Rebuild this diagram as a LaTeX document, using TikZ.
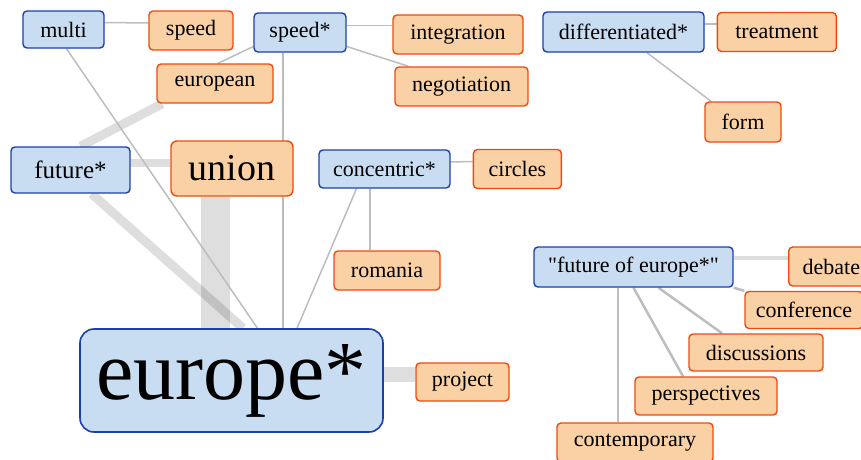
\documentclass[tikz,border=0pt]{standalone}
\usepackage{fontspec}
\setmainfont{Liberation Serif}
\usetikzlibrary{positioning,calc,backgrounds}
\definecolor{cBlueFill}{HTML}{C9DDF2}
\definecolor{cBlueLine}{HTML}{1C3FAE}
\definecolor{cOrangeFill}{HTML}{F9D1A4}
\definecolor{cOrangeLine}{HTML}{F0490E}
\definecolor{cLink}{HTML}{BDBDBD}

\begin{document}
\begin{tikzpicture}[x=1pt,y=-1pt,
      term/.style={rounded corners=4pt,line width=1.4pt,inner sep=0pt,
                   font=\fontsize{22}{24}\selectfont,text=black},
      hub/.style={term,draw=cBlueLine,fill=cBlueFill},
      leaf/.style={term,draw=cOrangeLine,fill=cOrangeFill},
      link/.style={cLink,line width=1.5pt},
      band/.style={black,draw opacity=0.13}]
    \path[use as bounding box,clip] (0,0) rectangle (861,459);

    % top row
    \node[hub,minimum width=81pt,minimum height=37pt] (multi) at (63.5,29.5) {multi};
    \node[leaf,minimum width=84pt,minimum height=39pt] (speed) at (191,30.5) {speed};
    \node[hub,minimum width=92pt,minimum height=39pt] (speedst) at (300,32.5) {speed*};
    \node[leaf,minimum width=130pt,minimum height=39pt] (integr) at (458,34.5) {integration};
    \node[leaf,minimum width=133pt,minimum height=39pt] (negot) at (461.5,86.5) {negotiation};
    \node[leaf,minimum width=116pt,minimum height=39pt] (europn) at (215,83.5) {european};
    \node[hub,minimum width=161pt,minimum height=40pt] (diff) at (623.5,32) {differentiated*};
    \node[leaf,minimum width=119pt,minimum height=39pt,right=12pt of diff] (treat) {treatment};
    \node[leaf,minimum width=76pt,minimum height=40pt] (form) at (743,122) {form};

    % middle
    \node[hub,minimum width=119pt,minimum height=46pt,font=\fontsize{25}{27}\selectfont]
      (future) at (70.5,170) {future*};
    \node[leaf,minimum width=122pt,minimum height=55pt,rounded corners=6pt,
          font=\fontsize{38}{40}\selectfont] (union) at (232,168.5) {union};
    \node[hub,minimum width=131pt,minimum height=38pt] (concen) at (384.5,169) {concentric*};
    \node[leaf,minimum width=88pt,minimum height=39pt,right=22pt of concen] (circles) {circles};
    \node[leaf,minimum width=106pt,minimum height=39pt] (romania) at (387,270.5) {romania};

    % bottom left
    \node[hub,minimum width=303pt,minimum height=103pt,rounded corners=14pt,line width=1.6pt,
          font=\fontsize{84}{86}\selectfont] (europe) at (231.5,380.5) {europe*};
    \node[leaf,minimum width=93pt,minimum height=38pt] (project) at (462.5,382) {project};

    % bottom right
    \node[hub,minimum width=199pt,minimum height=40pt] (fofe) at (633.5,267)
      {\textquotedbl future of europe*\textquotedbl};
    \node[leaf,anchor=west,minimum height=39pt,text width=90pt,align=left,inner xsep=14pt]
      (debate) at (788,266.5) {debate};
    \node[leaf,minimum width=118pt,minimum height=37pt] (confer) at (804,310) {conference};
    \node[leaf,minimum width=134pt,minimum height=37pt] (discus) at (756,352.5) {discussions};
    \node[leaf,minimum width=142pt,minimum height=38pt] (persp) at (706,396) {perspectives};
    \node[leaf,minimum width=156pt,minimum height=39pt] (contemp) at (635,442.5) {contemporary};

    \begin{scope}[on background layer]
      % heavy links
      \draw[band,line width=29pt] ($(union.south)+(-17,0)$) -- ($(europe.north)+(-16.5,0)$);
      \draw[band,line width=9pt] ($(future.south)+(21,0)$) -- ($(europe.north)+(11.5,0)$);
      \draw[band,line width=9pt] ($(europn.south west)+(6,0)$) -- ($(future.north)+(10,0)$);
      \draw[band,line width=8pt] ($(future.east)+(0,-7.5)$) -- ($(union.west)+(0,-6)$);
      \draw[band,line width=15pt] ($(europe.east)+(0,-6.5)$) -- ($(project.west)+(0,-8)$);
      \draw[band,line width=4pt] ($(fofe.east)+(0,-9)$) -- ($(debate.west)+(0,-8.5)$);
      % light links
      \draw[link] ($(multi.east)+(0,-7)$) -- ($(speed.west)+(0,-7.5)$);
      \draw[link] ($(multi.south)+(3,0)$) -- ($(europe.north)+(26,0)$);
      \draw[link] ($(speedst.west)+(0,14)$) -- ($(europn.north)+(3,0)$);
      \draw[link] ($(speedst.east)+(0,-7)$) -- ($(integr.west)+(0,-9)$);
      \draw[link] ($(speedst.east)+(0,14)$) -- ($(negot.north)+(-53,0)$);
      \draw[link] ($(speedst.south)+(-17,0)$) -- ($(europe.north)+(51.5,0)$);
      \draw[link] ($(concen.south)+(-28,0)$) -- ($(europe.north)+(65.5,0)$);
      \draw[link] ($(concen.south)+(-14.5,0)$) -- ($(romania.north)+(-17,0)$);
      \draw[link] ($(concen.east)+(0,-7)$) -- ($(circles.west)+(0,-7.5)$);
      \draw[link] ($(diff.east)+(0,-8)$) -- ($(treat.west)+(0,-8)$);
      \draw[link] ($(diff.south)+(23.5,0)$) -- ($(form.north)+(-32,0)$);
      \draw[link,line width=2.5pt] (fofe.south east) -- (confer.north west);
      \draw[link,line width=2.5pt] ($(fofe.south)+(25,0)$) -- ($(discus.north)+(-34,0)$);
      \draw[link,line width=2.5pt] (fofe.south) -- ($(persp.north)+(-23,0)$);
      \draw[link,line width=2.5pt] ($(fofe.south)+(-15.5,0)$) -- ($(contemp.north)+(-17,0)$);
    \end{scope}
  \end{tikzpicture}
\end{document}
